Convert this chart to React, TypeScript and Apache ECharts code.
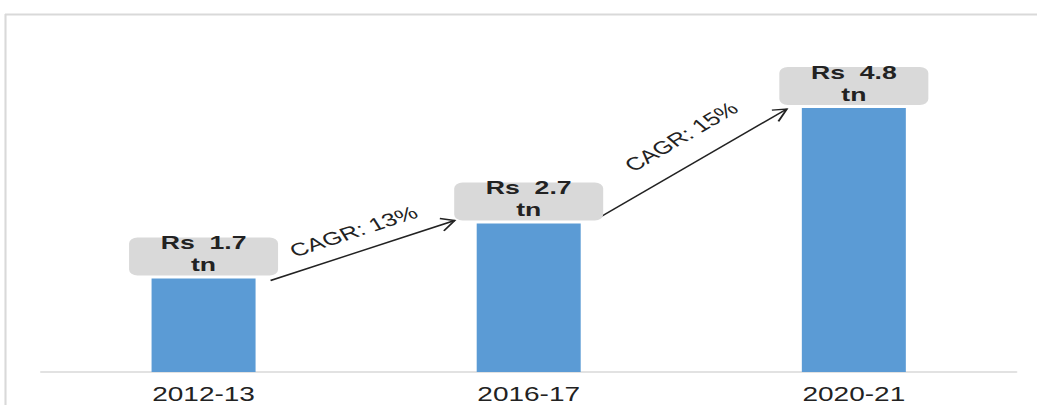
import React, { useEffect, useRef } from "react";
import * as echarts from "echarts";

const categories = ["2012-13", "2016-17", "2020-21"];
const values = [1.7, 2.7, 4.8];
const valueLabels = ["Rs  1.7\ntn", "Rs  2.7\ntn", "Rs  4.8\ntn"];
const cagrLabels = ["CAGR: 13%", "CAGR: 15%"];

// the reference is horizontally stretched; render narrower and stretch with CSS
const S = 1.4;
const W = 1037 / S;

export default function App() {
  const ref = useRef<HTMLDivElement>(null);
  useEffect(() => {
    if (!ref.current) return;
    const chart = echarts.init(ref.current, null, { renderer: "svg" });
    const font = "'Liberation Sans', Arial, sans-serif";
    chart.setOption({
      animation: false,
      grid: { left: 41 / S, right: 21 / S, top: 42, bottom: 33 },
      xAxis: {
        type: "category",
        data: categories,
        axisLine: { lineStyle: { color: "#d9d9d9", width: 1.5 } },
        axisTick: { show: false },
        axisLabel: { color: "#222", fontSize: 20, fontFamily: font, margin: 12 },
      },
      yAxis: { type: "value", min: 0, max: 6, show: false, splitLine: { show: false } },
      series: [
        {
          type: "bar",
          data: values.map((v, i) => ({ value: v, label: { formatter: valueLabels[i] } })),
          barWidth: 104 / S,
          itemStyle: { color: "#5b9bd5" },
          label: {
            show: true,
            position: "top",
            distance: 3,
            backgroundColor: "#d9d9d9",
            borderRadius: 6,
            width: 149 / S,
            height: 32,
            lineHeight: 22,
            padding: [6, 0, 0, 0],
            align: "center",
            color: "#222",
            fontWeight: "bold",
            fontSize: 19,
            fontFamily: font,
          },
        },
      ],
    });

    // positions in final (stretched) pixel space
    const half = 52;
    const pts = values.map((v, i) => {
      const p = chart.convertToPixel({ gridIndex: 0 }, [i, v]) as number[];
      return [p[0] * S, p[1]];
    });
    const segs = [
      { s: [pts[0][0] + half + 15, pts[0][1] + 2], e: [pts[1][0] - half - 22, pts[1][1] - 3], off: [-9, -19] },
      { s: [pts[1][0] + half + 17, pts[1][1] - 5], e: [pts[2][0] - half - 15, pts[2][1] + 1], off: [-11, -27] },
    ];
    const arrows: any[] = [];
    segs.forEach((sg, i) => {
      const x1 = sg.s[0] / S, y1 = sg.s[1];
      const x2 = sg.e[0] / S, y2 = sg.e[1];
      const fx2 = sg.e[0], fx1 = sg.s[0];
      const angF = Math.atan2(y2 - y1, fx2 - fx1);
      const hl = 15;
      const spread = 0.45;
      const a1 = [(fx2 - hl * Math.cos(angF - spread)) / S, y2 - hl * Math.sin(angF - spread)];
      const a2 = [(fx2 - hl * Math.cos(angF + spread)) / S, y2 - hl * Math.sin(angF + spread)];
      const style = { stroke: "#222", lineWidth: 1.4, fill: null };
      arrows.push({ type: "line", shape: { x1, y1, x2, y2 }, style });
      arrows.push({ type: "polyline", shape: { points: [a1, [x2, y2], a2] }, style });
      const angU = Math.atan2(y2 - y1, x2 - x1);
      const mxF = (fx1 + fx2) / 2 + sg.off[0];
      const my = (y1 + y2) / 2 + sg.off[1];
      arrows.push({
        type: "text",
        x: mxF / S,
        y: my,
        rotation: -angU,
        style: {
          text: cagrLabels[i],
          fill: "#222",
          font: `18px ${font}`,
          align: "center",
          verticalAlign: "middle",
        },
      });
    });

    chart.setOption({
      graphic: [
        { type: "line", shape: { x1: 5 / S, y1: 14.5, x2: W, y2: 14.5 }, style: { stroke: "#d9d9d9", lineWidth: 2 } },
        { type: "line", shape: { x1: 5.5 / S, y1: 14, x2: 5.5 / S, y2: 405 }, style: { stroke: "#d9d9d9", lineWidth: 1.5 } },
        ...arrows,
      ],
    });
    return () => chart.dispose();
  }, []);
  return (
    <div
      ref={ref}
      style={{
        position: "fixed",
        left: 0,
        top: 0,
        width: W,
        height: 405,
        background: "#fff",
        transform: `scaleX(${S})`,
        transformOrigin: "0 0",
      }}
    />
  );
}
